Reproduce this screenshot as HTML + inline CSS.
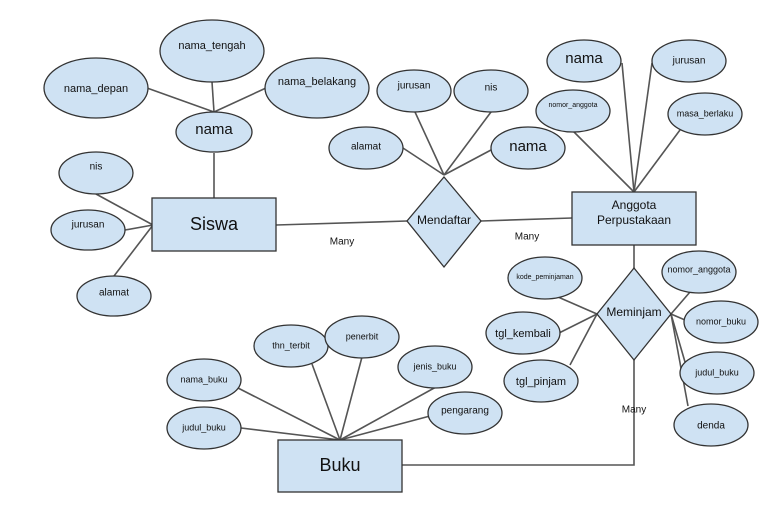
<!DOCTYPE html>
<html><head><meta charset="utf-8"><style>
html,body{margin:0;padding:0;background:#fff;}
svg{display:block;}
text{font-family:"Liberation Sans",Arial,sans-serif;fill:#111;text-anchor:middle;dominant-baseline:middle;}
.e{fill:#cfe2f3;stroke:#333;stroke-width:1.3;}
.l{stroke:#555;stroke-width:1.6;fill:none;}
</style></head><body>
<svg width="778" height="510" viewBox="0 0 778 510" xmlns="http://www.w3.org/2000/svg">
<!-- lines -->
<g class="l">
<line x1="214" y1="112" x2="147" y2="88"/>
<line x1="214" y1="112" x2="212" y2="82"/>
<line x1="214" y1="112" x2="266" y2="88"/>
<line x1="214" y1="153" x2="214" y2="198"/>
<line x1="153" y1="225" x2="96" y2="194"/>
<line x1="153" y1="225" x2="125" y2="230"/>
<line x1="153" y1="225" x2="114" y2="276"/>
<line x1="276" y1="225" x2="407" y2="221"/>
<line x1="481" y1="221" x2="572" y2="218"/>
<line x1="444" y1="175" x2="403" y2="148"/>
<line x1="444" y1="175" x2="415" y2="112"/>
<line x1="444" y1="175" x2="491" y2="112"/>
<line x1="444" y1="175" x2="491" y2="150"/>
<line x1="634" y1="192" x2="622" y2="63"/>
<line x1="634" y1="192" x2="652" y2="63"/>
<line x1="634" y1="192" x2="573" y2="131"/>
<line x1="634" y1="192" x2="680" y2="130"/>
<line x1="634" y1="245" x2="634" y2="268"/>
<line x1="597" y1="314" x2="558" y2="297"/>
<line x1="597" y1="314" x2="559" y2="333"/>
<line x1="597" y1="314" x2="570" y2="365"/>
<line x1="671" y1="314" x2="690" y2="292"/>
<line x1="671" y1="314" x2="685" y2="320"/>
<line x1="671" y1="314" x2="685" y2="362"/>
<line x1="671" y1="314" x2="688" y2="406"/>
<polyline points="634,360 634,465 402,465"/>
<line x1="340" y1="440" x2="238" y2="388"/>
<line x1="340" y1="440" x2="241" y2="428"/>
<line x1="340" y1="440" x2="312" y2="364"/>
<line x1="340" y1="440" x2="362" y2="357"/>
<line x1="340" y1="440" x2="436" y2="387"/>
<line x1="340" y1="440" x2="430" y2="416"/>
</g>
<!-- ellipses -->
<g class="e">
<ellipse cx="212" cy="51" rx="52" ry="31"/>
<ellipse cx="96" cy="88" rx="52" ry="30"/>
<ellipse cx="317" cy="88" rx="52" ry="30"/>
<ellipse cx="214" cy="132" rx="38" ry="20"/>
<ellipse cx="96" cy="173" rx="37" ry="21"/>
<ellipse cx="88" cy="230" rx="37" ry="20"/>
<ellipse cx="114" cy="296" rx="37" ry="20"/>
<ellipse cx="414" cy="91" rx="37" ry="21"/>
<ellipse cx="491" cy="91" rx="37" ry="21"/>
<ellipse cx="366" cy="148" rx="37" ry="21"/>
<ellipse cx="528" cy="148" rx="37" ry="21"/>
<ellipse cx="584" cy="61" rx="37" ry="21"/>
<ellipse cx="689" cy="61" rx="37" ry="21"/>
<ellipse cx="573" cy="111" rx="37" ry="21"/>
<ellipse cx="705" cy="114" rx="37" ry="21"/>
<ellipse cx="545" cy="278" rx="37" ry="21"/>
<ellipse cx="523" cy="333" rx="37" ry="21"/>
<ellipse cx="541" cy="381" rx="37" ry="21"/>
<ellipse cx="699" cy="272" rx="37" ry="21"/>
<ellipse cx="721" cy="322" rx="37" ry="21"/>
<ellipse cx="717" cy="373" rx="37" ry="21"/>
<ellipse cx="711" cy="425" rx="37" ry="21"/>
<ellipse cx="204" cy="380" rx="37" ry="21"/>
<ellipse cx="204" cy="428" rx="37" ry="21"/>
<ellipse cx="291" cy="346" rx="37" ry="21"/>
<ellipse cx="362" cy="337" rx="37" ry="21"/>
<ellipse cx="435" cy="367" rx="37" ry="21"/>
<ellipse cx="465" cy="413" rx="37" ry="21"/>
<rect x="152" y="198" width="124" height="53"/>
<rect x="572" y="192" width="124" height="53"/>
<rect x="278" y="440" width="124" height="52"/>
<polygon points="444,177 481,221 444,267 407,221"/>
<polygon points="634,268 671,314 634,360 597,314"/>
</g>
<!-- text -->
<g font-size="11">
<text x="212" y="46">nama_tengah</text>
<text x="96" y="89">nama_depan</text>
<text x="317" y="82">nama_belakang</text>
<text x="214" y="130" font-size="15">nama</text>
<text x="96" y="167" font-size="10">nis</text>
<text x="88" y="225" font-size="10">jurusan</text>
<text x="114" y="293" font-size="10">alamat</text>
<text x="214" y="225" font-size="18">Siswa</text>
<text x="342" y="242" font-size="10">Many</text>
<text x="414" y="86" font-size="10">jurusan</text>
<text x="491" y="88" font-size="10">nis</text>
<text x="366" y="147" font-size="10">alamat</text>
<text x="528" y="147" font-size="15">nama</text>
<text x="444" y="221" font-size="12">Mendaftar</text>
<text x="527" y="237" font-size="10">Many</text>
<text x="584" y="59" font-size="15">nama</text>
<text x="689" y="61" font-size="10">jurusan</text>
<text x="573" y="105" font-size="7">nomor_anggota</text>
<text x="705" y="114" font-size="9">masa_berlaku</text>
<text x="634" y="206" font-size="12">Anggota</text>
<text x="634" y="221" font-size="12">Perpustakaan</text>
<text x="545" y="277" font-size="7">kode_peminjaman</text>
<text x="523" y="334" font-size="11">tgl_kembali</text>
<text x="541" y="382" font-size="11">tgl_pinjam</text>
<text x="634" y="313" font-size="12">Meminjam</text>
<text x="699" y="270" font-size="9">nomor_anggota</text>
<text x="721" y="322" font-size="9">nomor_buku</text>
<text x="717" y="373" font-size="9">judul_buku</text>
<text x="711" y="426" font-size="10">denda</text>
<text x="634" y="410" font-size="10">Many</text>
<text x="204" y="380" font-size="9">nama_buku</text>
<text x="204" y="428" font-size="9">judul_buku</text>
<text x="291" y="346" font-size="9">thn_terbit</text>
<text x="362" y="337" font-size="9">penerbit</text>
<text x="435" y="367" font-size="9">jenis_buku</text>
<text x="465" y="411" font-size="10">pengarang</text>
<text x="340" y="466" font-size="18">Buku</text>
</g>
</svg>
</body></html>
